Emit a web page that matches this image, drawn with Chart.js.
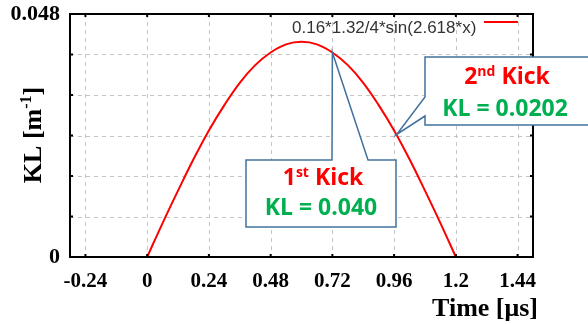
<!DOCTYPE html>
<html>
<head>
<meta charset="utf-8">
<script src="https://cdn.jsdelivr.net/npm/chart.js"></script>
<style>
  html, body { margin: 0; padding: 0; background: #fff; }
  #wrap { width: 588px; height: 324px; }
</style>
</head>
<body>
<div id="wrap"><canvas id="chart" width="588" height="324"></canvas></div>
<script>
  // values
  var timeUs = [0, 0.06, 0.12, 0.18, 0.24, 0.30, 0.36, 0.42, 0.48, 0.54, 0.60, 0.66, 0.72, 0.78, 0.84, 0.90, 0.96, 1.02, 1.08, 1.14, 1.20];
  var klValues = [0, 0.0067, 0.0131, 0.0193, 0.0250, 0.0300, 0.0344, 0.0379, 0.0404, 0.0420, 0.0425, 0.0420, 0.0404, 0.0379, 0.0344, 0.0300, 0.0250, 0.0193, 0.0131, 0.0067, 0];
  var xTicks = [-0.24, 0, 0.24, 0.48, 0.72, 0.96, 1.2, 1.44];
  var yTicks = [0, 0.008, 0.016, 0.024, 0.032, 0.04, 0.048];
  var yLabels = ["0", "", "", "", "", "", "0.048"];
  var seriesLabel = "0.16*1.32/4*sin(2.618*x)";
  var kick1 = { t: 0.72, kl: 0.0404, name: "1", sup: "st", value: "KL = 0.040" };
  var kick2 = { t: 0.97, kl: 0.0242, name: "2", sup: "nd", value: "KL = 0.0202" };

  var points = timeUs.map(function (t, i) {
    return { x: t, y: klValues[i] };
  });

  var RED = "#ff0000";
  var GREEN = "#00b050";
  var BOX = "#41719c";
  var CALLOUT_FONT = "'Open Sans'";

  function drawRich(ctx, parts, cx, baseline) {
    var total = 0;
    parts.forEach(function (p) {
      ctx.font = "bold " + p.size + "px " + p.family;
      p.w = ctx.measureText(p.text).width;
      total += p.w;
    });
    var xPos = cx - total / 2;
    ctx.textAlign = "left";
    ctx.textBaseline = "alphabetic";
    parts.forEach(function (p) {
      ctx.font = "bold " + p.size + "px " + p.family;
      ctx.fillStyle = p.color;
      ctx.fillText(p.text, xPos, baseline - (p.rise || 0));
      xPos += p.w;
    });
  }

  function kickTitle(k) {
    return [
      { text: k.name, size: 23, family: CALLOUT_FONT, color: RED },
      { text: k.sup, size: 14, family: CALLOUT_FONT, color: RED, rise: 8 },
      { text: " Kick", size: 23, family: CALLOUT_FONT, color: RED },
    ];
  }

  // dashed grid drawn under the curve
  var dashedGrid = {
    id: "dashedGrid",
    beforeDatasetsDraw: function (chart) {
      var ctx = chart.ctx;
      var a = chart.chartArea;
      var xs = chart.scales.x;
      var ys = chart.scales.y;
      ctx.save();
      ctx.strokeStyle = "#c4c4c4";
      ctx.lineWidth = 1;
      ctx.setLineDash([4, 4]);
      ctx.beginPath();
      xTicks.forEach(function (v) {
        var px = Math.round(xs.getPixelForValue(v)) + 0.5;
        ctx.moveTo(px, a.top);
        ctx.lineTo(px, a.bottom);
      });
      yTicks.forEach(function (v) {
        var py = Math.round(ys.getPixelForValue(v)) + 0.5;
        ctx.moveTo(a.left, py);
        ctx.lineTo(a.right, py);
      });
      ctx.stroke();
      ctx.restore();
    },
  };

  var extras = {
    id: "extras",
    afterDraw: function (chart) {
      var ctx = chart.ctx;
      var a = chart.chartArea;
      var xs = chart.scales.x;
      var ys = chart.scales.y;
      ctx.save();

      // frame and inward ticks
      ctx.strokeStyle = "#000";
      ctx.lineWidth = 2;
      ctx.strokeRect(a.left, a.top, a.right - a.left, a.bottom - a.top);
      ctx.beginPath();
      xTicks.forEach(function (v) {
        var px = xs.getPixelForValue(v);
        ctx.moveTo(px, a.bottom);
        ctx.lineTo(px, a.bottom - 3);
        ctx.moveTo(px, a.top);
        ctx.lineTo(px, a.top + 3);
      });
      yTicks.forEach(function (v) {
        var py = ys.getPixelForValue(v);
        ctx.moveTo(a.left, py);
        ctx.lineTo(a.left + 3, py);
        ctx.moveTo(a.right, py);
        ctx.lineTo(a.right - 3, py);
      });
      ctx.stroke();

      // axis titles
      ctx.fillStyle = "#000";
      ctx.font = "bold 26px 'Liberation Serif'";
      ctx.textAlign = "right";
      ctx.textBaseline = "alphabetic";
      ctx.fillText("Time [\u03bcs]", 538, 316);

      ctx.save();
      ctx.translate(41, 135);
      ctx.rotate(-Math.PI / 2);
      drawRich(ctx, [
        { text: "KL [m", size: 26, family: "'Liberation Serif'", color: "#000" },
        { text: "-1", size: 16, family: "'Liberation Serif'", color: "#000", rise: 10 },
        { text: "]", size: 26, family: "'Liberation Serif'", color: "#000" },
      ], 0, 0);
      ctx.restore();

      // legend
      ctx.font = "17px 'Liberation Sans'";
      ctx.fillStyle = "#333";
      ctx.textAlign = "left";
      ctx.fillText(seriesLabel, 292, 33);
      ctx.strokeStyle = RED;
      ctx.lineWidth = 2;
      ctx.beginPath();
      ctx.moveTo(484, 22);
      ctx.lineTo(518, 22);
      ctx.stroke();

      // callout 1
      var t1x = xs.getPixelForValue(kick1.t);
      var t1y = ys.getPixelForValue(kick1.kl);
      ctx.beginPath();
      ctx.moveTo(246, 160);
      ctx.lineTo(332, 160);
      ctx.lineTo(t1x, t1y);
      ctx.lineTo(368, 160);
      ctx.lineTo(396, 160);
      ctx.lineTo(396, 227);
      ctx.lineTo(246, 227);
      ctx.closePath();
      ctx.fillStyle = "#fff";
      ctx.fill();
      ctx.strokeStyle = BOX;
      ctx.lineWidth = 1.5;
      ctx.stroke();
      drawRich(ctx, kickTitle(kick1), 323, 185);
      drawRich(ctx, [{ text: kick1.value, size: 23, family: CALLOUT_FONT, color: GREEN }], 321, 215);

      // callout 2
      var t2x = xs.getPixelForValue(kick2.t);
      var t2y = ys.getPixelForValue(kick2.kl);
      ctx.beginPath();
      ctx.moveTo(425, 57);
      ctx.lineTo(600, 57);
      ctx.lineTo(600, 125);
      ctx.lineTo(425, 125);
      ctx.lineTo(425, 116);
      ctx.lineTo(t2x, t2y);
      ctx.lineTo(425, 97);
      ctx.closePath();
      ctx.fillStyle = "#fff";
      ctx.fill();
      ctx.strokeStyle = BOX;
      ctx.stroke();
      drawRich(ctx, kickTitle(kick2), 507, 84);
      drawRich(ctx, [{ text: kick2.value, size: 23, family: CALLOUT_FONT, color: GREEN }], 505, 116);

      ctx.restore();
    },
  };

  new Chart(document.getElementById("chart").getContext("2d"), {
    type: "line",
    data: {
      datasets: [
        {
          label: seriesLabel,
          data: points,
          borderColor: RED,
          borderWidth: 2,
          pointRadius: 0,
          fill: false,
          tension: 0.4,
        },
      ],
    },
    options: {
      responsive: false,
      animation: false,
      devicePixelRatio: 1,
      layout: { padding: { left: 0, top: 14, right: 55, bottom: 0 } },
      plugins: { legend: { display: false }, tooltip: { enabled: false } },
      scales: {
        x: {
          type: "linear",
          min: -0.3,
          max: 1.5,
          afterBuildTicks: function (s) {
            s.ticks = xTicks.map(function (v) { return { value: v }; });
          },
          afterFit: function (s) {
            s.height = 67;
            s.paddingLeft = 0;
            s.paddingRight = 0;
          },
          ticks: {
            autoSkip: false,
            maxRotation: 0,
            padding: 12,
            color: "#000",
            font: { family: "'Liberation Serif'", size: 21, weight: "bold" },
            callback: function (v) { return String(v); },
          },
          grid: { display: false, drawTicks: false },
          border: { display: false },
        },
        y: {
          min: 0,
          max: 0.048,
          afterBuildTicks: function (s) {
            s.ticks = yTicks.map(function (v) { return { value: v }; });
          },
          afterFit: function (s) {
            s.width = 70;
            s.paddingTop = 0;
            s.paddingBottom = 0;
          },
          ticks: {
            autoSkip: false,
            padding: 10,
            color: "#000",
            font: { family: "'Liberation Serif'", size: 22, weight: "bold" },
            callback: function (v, i) { return yLabels[i]; },
          },
          grid: { display: false, drawTicks: false },
          border: { display: false },
        },
      },
    },
    plugins: [dashedGrid, extras],
  });
</script>
</body>
</html>
